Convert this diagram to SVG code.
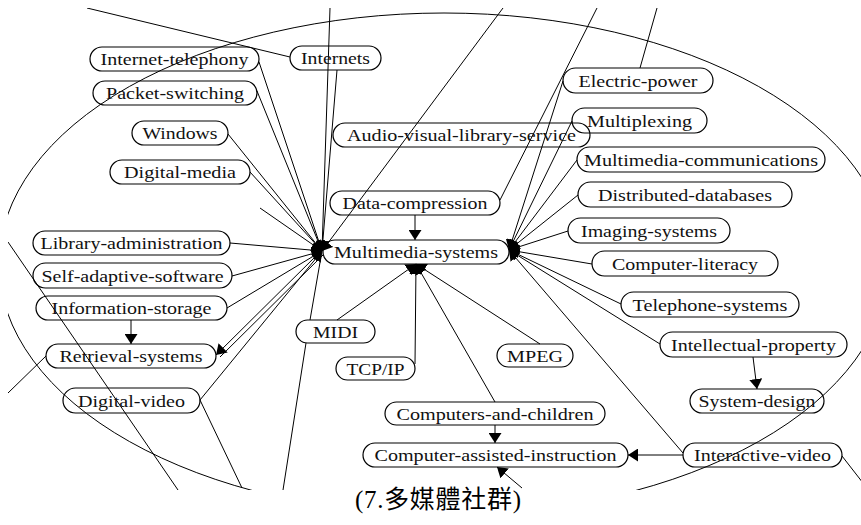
<svg xmlns="http://www.w3.org/2000/svg" width="861" height="525" viewBox="0 0 861 525">
<style>
.n rect{fill:none;stroke:#000;stroke-width:1.2}
.n text{font-family:"Liberation Serif","Times New Roman",serif;font-size:16.5px;fill:#111;text-anchor:middle}
#edges line,#edges path,#edges ellipse{stroke:#000;stroke-width:1;fill:none}
.a{marker-end:url(#ah)}
.cap{font-family:"Liberation Serif","Noto Sans CJK TC",serif;font-size:25px;fill:#000;text-anchor:middle}
</style>
<defs>
<marker id="ah" markerUnits="userSpaceOnUse" markerWidth="11" markerHeight="13" refX="10" refY="6.5" orient="auto">
<path d="M0,0 L10,6.5 L0,13 z" fill="#000"/>
</marker>
<clipPath id="crop"><rect x="8" y="8" width="853" height="482"/></clipPath>
</defs>
<rect width="861" height="525" fill="#fff"/>
<g id="edges" clip-path="url(#crop)">
<ellipse cx="444" cy="264" rx="445" ry="251"/>
<line x1="87" y1="8" x2="290" y2="57"/>
<line x1="640" y1="68" x2="657" y2="8"/>
<line x1="500" y1="200" x2="597" y2="8"/>
<line x1="8" y1="242" x2="178" y2="490"/>
<line x1="46" y1="356" x2="8" y2="393"/>
<line x1="200" y1="400" x2="242" y2="488"/>
<line x1="842" y1="456" x2="870" y2="492"/>
<line x1="310" y1="320" x2="322" y2="251"/>
<line x1="306" y1="343" x2="283" y2="490"/>
<line class="a" x1="259" y1="62" x2="322" y2="251"/>
<line class="a" x1="257" y1="91" x2="322" y2="251"/>
<line class="a" x1="228" y1="134" x2="322" y2="251"/>
<line class="a" x1="250" y1="172" x2="322" y2="251"/>
<line class="a" x1="260" y1="208" x2="322" y2="251"/>
<line class="a" x1="330" y1="8" x2="322" y2="251"/>
<line class="a" x1="337" y1="70" x2="322" y2="251"/>
<line class="a" x1="503" y1="8" x2="322" y2="251"/>
<line class="a" x1="230" y1="243" x2="322" y2="251"/>
<line class="a" x1="232" y1="276" x2="322" y2="251"/>
<line class="a" x1="227" y1="308" x2="322" y2="251"/>
<line class="a" x1="200" y1="400" x2="322" y2="251"/>
<line class="a" x1="318" y1="254" x2="216" y2="355"/>
<line x1="323" y1="255" x2="220" y2="357"/>
<line class="a" x1="563" y1="81" x2="509" y2="250"/>
<line class="a" x1="572" y1="121" x2="509" y2="250"/>
<line class="a" x1="577" y1="160" x2="509" y2="250"/>
<line class="a" x1="578" y1="195" x2="509" y2="250"/>
<line class="a" x1="568" y1="231" x2="509" y2="250"/>
<line class="a" x1="592" y1="264" x2="509" y2="250"/>
<line class="a" x1="621" y1="304" x2="509" y2="250"/>
<line class="a" x1="660" y1="344" x2="509" y2="250"/>
<line class="a" x1="683" y1="453" x2="509" y2="250"/>
<line class="a" x1="337" y1="320" x2="416" y2="264"/>
<line class="a" x1="415" y1="364" x2="416" y2="264"/>
<line class="a" x1="495" y1="402" x2="416" y2="264"/>
<line class="a" x1="540" y1="344" x2="416" y2="264"/>
<line class="a" x1="415" y1="215" x2="415" y2="240"/>
<line class="a" x1="131" y1="320" x2="131" y2="344"/>
<line class="a" x1="753" y1="357" x2="757" y2="389"/>
<line class="a" x1="495" y1="425" x2="495" y2="443"/>
<line class="a" x1="683" y1="455" x2="628" y2="455"/>
<line class="a" x1="522" y1="488" x2="497" y2="467"/>
</g>
<g id="n-internet-telephony" class="n"><rect x="90" y="47" width="169" height="24" rx="12"/><text x="174.5" y="65" textLength="148" lengthAdjust="spacingAndGlyphs">Internet-telephony</text></g>
<g id="n-internets" class="n"><rect x="290" y="46" width="91" height="24" rx="12"/><text x="335.5" y="64" textLength="69" lengthAdjust="spacingAndGlyphs">Internets</text></g>
<g id="n-packet-switching" class="n"><rect x="93" y="81" width="164" height="24" rx="12"/><text x="175" y="99" textLength="138" lengthAdjust="spacingAndGlyphs">Packet-switching</text></g>
<g id="n-windows" class="n"><rect x="132" y="121" width="96" height="24" rx="12"/><text x="180" y="139" textLength="75" lengthAdjust="spacingAndGlyphs">Windows</text></g>
<g id="n-digital-media" class="n"><rect x="110" y="160" width="140" height="24" rx="12"/><text x="180" y="178" textLength="112" lengthAdjust="spacingAndGlyphs">Digital-media</text></g>
<g id="n-audio-visual" class="n"><rect x="333" y="123" width="257" height="24" rx="12"/><text x="461.5" y="141" textLength="229" lengthAdjust="spacingAndGlyphs">Audio-visual-library-service</text></g>
<g id="n-electric-power" class="n"><rect x="563" y="68" width="150" height="25" rx="12.5"/><text x="638" y="86.5" textLength="119" lengthAdjust="spacingAndGlyphs">Electric-power</text></g>
<g id="n-multiplexing" class="n"><rect x="572" y="108" width="135" height="25" rx="12.5"/><text x="639.5" y="126.5" textLength="105" lengthAdjust="spacingAndGlyphs">Multiplexing</text></g>
<g id="n-mm-comm" class="n"><rect x="577" y="147" width="248" height="25" rx="12.5"/><text x="701" y="165.5" textLength="234" lengthAdjust="spacingAndGlyphs">Multimedia-communications</text></g>
<g id="n-distributed-databases" class="n"><rect x="578" y="182" width="214" height="25" rx="12.5"/><text x="685" y="200.5" textLength="174" lengthAdjust="spacingAndGlyphs">Distributed-databases</text></g>
<g id="n-imaging-systems" class="n"><rect x="568" y="218" width="162" height="25" rx="12.5"/><text x="649" y="236.5" textLength="136" lengthAdjust="spacingAndGlyphs">Imaging-systems</text></g>
<g id="n-computer-literacy" class="n"><rect x="592" y="251" width="186" height="25" rx="12.5"/><text x="685" y="269.5" textLength="146" lengthAdjust="spacingAndGlyphs">Computer-literacy</text></g>
<g id="n-telephone-systems" class="n"><rect x="621" y="292" width="178" height="25" rx="12.5"/><text x="710" y="310.5" textLength="155" lengthAdjust="spacingAndGlyphs">Telephone-systems</text></g>
<g id="n-intellectual-property" class="n"><rect x="660" y="332" width="187" height="25" rx="12.5"/><text x="753.5" y="350.5" textLength="165" lengthAdjust="spacingAndGlyphs">Intellectual-property</text></g>
<g id="n-system-design" class="n"><rect x="690" y="389" width="134" height="24" rx="12"/><text x="757" y="407" textLength="117" lengthAdjust="spacingAndGlyphs">System-design</text></g>
<g id="n-interactive-video" class="n"><rect x="683" y="443" width="159" height="24" rx="12"/><text x="762.5" y="461" textLength="137" lengthAdjust="spacingAndGlyphs">Interactive-video</text></g>
<g id="n-cai" class="n"><rect x="363" y="443" width="265" height="24" rx="12"/><text x="495.5" y="461" textLength="242" lengthAdjust="spacingAndGlyphs">Computer-assisted-instruction</text></g>
<g id="n-computers-children" class="n"><rect x="385" y="402" width="220" height="23" rx="11.5"/><text x="495" y="419.5" textLength="197" lengthAdjust="spacingAndGlyphs">Computers-and-children</text></g>
<g id="n-mpeg" class="n"><rect x="497" y="344" width="76" height="23" rx="11.5"/><text x="535" y="361.5" textLength="56" lengthAdjust="spacingAndGlyphs">MPEG</text></g>
<g id="n-tcpip" class="n"><rect x="336" y="357" width="79" height="23" rx="11.5"/><text x="375.5" y="374.5" textLength="58" lengthAdjust="spacingAndGlyphs">TCP/IP</text></g>
<g id="n-midi" class="n"><rect x="296" y="320" width="79" height="23" rx="11.5"/><text x="335.5" y="337.5" textLength="45" lengthAdjust="spacingAndGlyphs">MIDI</text></g>
<g id="n-multimedia-systems" class="n"><rect x="323" y="240" width="186" height="24" rx="12"/><text x="416" y="258" textLength="164" lengthAdjust="spacingAndGlyphs">Multimedia-systems</text></g>
<g id="n-data-compression" class="n"><rect x="330" y="191" width="170" height="24" rx="12"/><text x="415" y="209" textLength="145" lengthAdjust="spacingAndGlyphs">Data-compression</text></g>
<g id="n-library-administration" class="n"><rect x="33" y="231" width="197" height="24" rx="12"/><text x="131.5" y="249" textLength="182" lengthAdjust="spacingAndGlyphs">Library-administration</text></g>
<g id="n-self-adaptive" class="n"><rect x="33" y="263" width="199" height="25" rx="12.5"/><text x="132.5" y="281.5" textLength="182" lengthAdjust="spacingAndGlyphs">Self-adaptive-software</text></g>
<g id="n-information-storage" class="n"><rect x="36" y="296" width="191" height="24" rx="12"/><text x="131.5" y="314" textLength="160" lengthAdjust="spacingAndGlyphs">Information-storage</text></g>
<g id="n-retrieval-systems" class="n"><rect x="46" y="344" width="170" height="24" rx="12"/><text x="131" y="362" textLength="143" lengthAdjust="spacingAndGlyphs">Retrieval-systems</text></g>
<g id="n-digital-video" class="n"><rect x="63" y="388" width="137" height="25" rx="12.5"/><text x="131.5" y="406.5" textLength="107" lengthAdjust="spacingAndGlyphs">Digital-video</text></g>
<text class="cap" x="438" y="508" textLength="166">(7.多媒體社群)</text>
</svg>
